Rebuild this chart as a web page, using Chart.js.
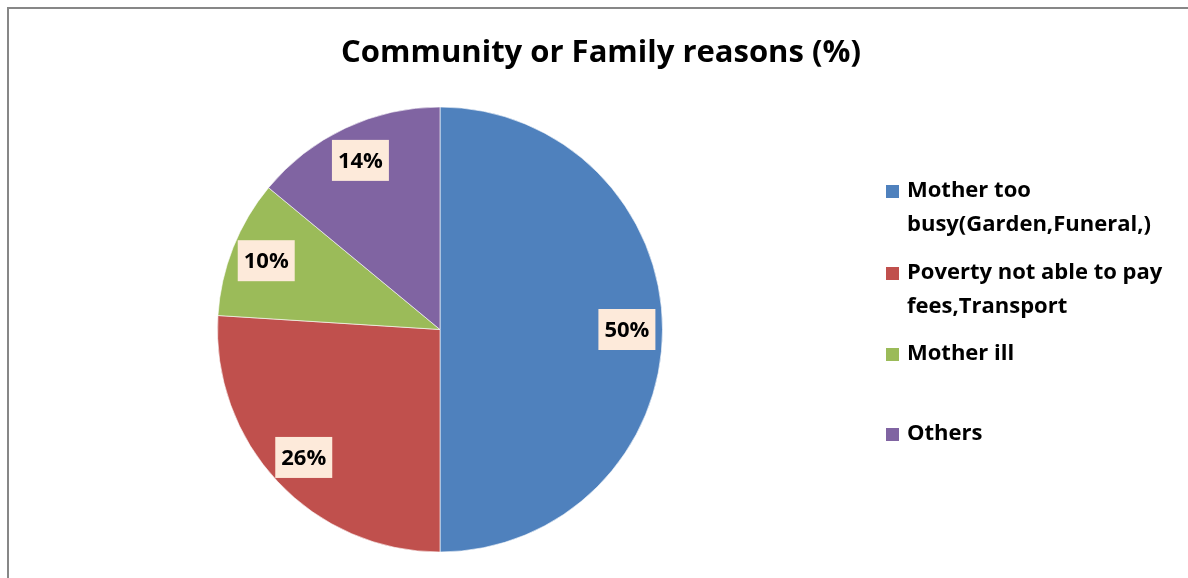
<!DOCTYPE html>
<html>
<head>
<meta charset="utf-8">
<script src="https://cdn.jsdelivr.net/npm/chart.js@4"></script>
<style>
  html, body { margin: 0; padding: 0; background: #fff; }
  #wrap { width: 1188px; height: 578px; position: relative; }
</style>
</head>
<body>
<div id="wrap"><canvas id="pie"></canvas></div>
<script>
// data
const categories = [
  'Mother too busy(Garden,Funeral,)',
  'Poverty not able to pay fees,Transport',
  'Mother ill',
  'Others'
];
const percentages = [50, 26, 10, 14];
const legendLines = [
  ['Mother too', 'busy(Garden,Funeral,)'],
  ['Poverty not able to pay', 'fees,Transport'],
  ['Mother ill'],
  ['Others']
];
const sliceColors = ['#4F81BD', '#C0504D', '#9BBB59', '#8064A2'];
const chartTitle = 'Community or Family reasons (%)';

const FONT = "'Open Sans', Lato, sans-serif";

// frame + title
const framePlugin = {
  id: 'frame',
  beforeDraw(chart) {
    const ctx = chart.ctx;
    ctx.save();
    ctx.fillStyle = '#fff';
    ctx.fillRect(0, 0, chart.width, chart.height);
    ctx.strokeStyle = '#878787';
    ctx.lineWidth = 2;
    ctx.beginPath();
    ctx.moveTo(8, chart.height);
    ctx.lineTo(8, 8);
    ctx.lineTo(chart.width, 8);
    ctx.stroke();
    ctx.fillStyle = '#000';
    ctx.font = 'bold 31px ' + FONT;
    ctx.textAlign = 'center';
    ctx.textBaseline = 'middle';
    ctx.fillText(chartTitle, 601, 53);
    ctx.restore();
  }
};

// percentage labels in peach boxes
const sliceLabels = {
  id: 'sliceLabels',
  afterDatasetsDraw(chart) {
    const ctx = chart.ctx;
    const meta = chart.getDatasetMeta(0);
    ctx.save();
    ctx.font = 'bold 22px ' + FONT;
    ctx.textAlign = 'center';
    ctx.textBaseline = 'middle';
    meta.data.forEach((arc, i) => {
      const p = arc.getProps(['x', 'y', 'startAngle', 'endAngle', 'outerRadius']);
      const mid = (p.startAngle + p.endAngle) / 2;
      const r = p.outerRadius * 0.84;
      const x = p.x + Math.cos(mid) * r;
      const y = p.y + Math.sin(mid) * r;
      const txt = percentages[i] + '%';
      const w = ctx.measureText(txt).width + 12;
      const h = 41;
      ctx.fillStyle = '#FDEADA';
      ctx.fillRect(x - w / 2, y - h / 2, w, h);
      ctx.fillStyle = '#000';
      ctx.fillText(txt, x, y + 1);
    });
    ctx.restore();
  }
};

// legend on the right, wrapped like the original
const sideLegend = {
  id: 'sideLegend',
  afterDraw(chart) {
    const ctx = chart.ctx;
    const bg = chart.data.datasets[0].backgroundColor;
    const rowY = [191, 273, 354, 434];
    ctx.save();
    ctx.font = 'bold 22px ' + FONT;
    ctx.textAlign = 'left';
    ctx.textBaseline = 'middle';
    legendLines.forEach((lines, i) => {
      ctx.fillStyle = bg[i];
      ctx.fillRect(886, rowY[i] - 6, 13, 13);
      ctx.fillStyle = '#000';
      lines.forEach((ln, j) => {
        ctx.fillText(ln, 907, rowY[i] + j * 34);
      });
    });
    ctx.restore();
  }
};

new Chart(document.getElementById('pie'), {
  type: 'pie',
  data: {
    labels: categories,
    datasets: [{
      data: percentages,
      backgroundColor: sliceColors,
      borderColor: 'rgba(255,255,255,0.6)',
      borderWidth: 1
    }]
  },
  options: {
    responsive: true,
    maintainAspectRatio: false,
    animation: false,
    layout: { padding: { left: 217, right: 525, top: 106, bottom: 25 } },
    plugins: {
      legend: { display: false },
      title: { display: false },
      tooltip: { enabled: false }
    }
  },
  plugins: [framePlugin, sliceLabels, sideLegend]
});
</script>
</body>
</html>
